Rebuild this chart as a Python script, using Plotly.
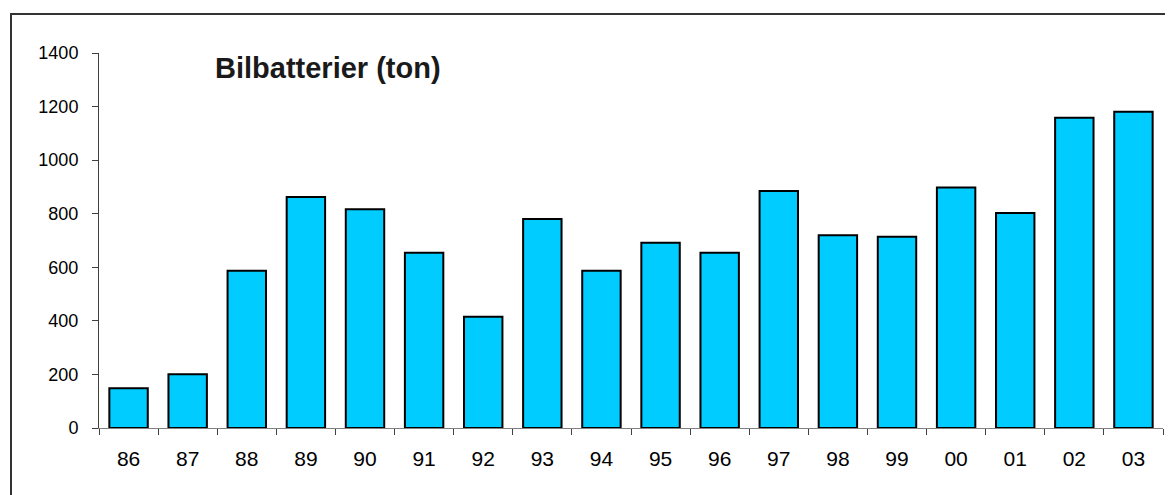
import plotly.graph_objects as go

years = ["86", "87", "88", "89", "90", "91", "92", "93", "94", "95",
         "96", "97", "98", "99", "00", "01", "02", "03"]
tons = [148, 201, 587, 862, 817, 654, 415, 780, 587, 692,
        654, 885, 720, 714, 898, 803, 1158, 1181]
y_ticks = [0, 200, 400, 600, 800, 1000, 1200, 1400]

# page body has an 8px default margin, so the figure is drawn 8px in
OFF = 8
W, H = 1173 - OFF, 495 - OFF
L, R, T, B = 99 - OFF, 10, 53 - OFF, 67
pw, ph = W - L - R, H - T - B

fig = go.Figure(go.Bar(
    x=years, y=tons,
    marker=dict(color="#00CCFF", line=dict(color="#000000", width=2)),
))

def px_x(p):
    return (p - OFF - L) / pw

def px_y(p):
    return (H - B - (p - OFF)) / ph

fig.update_layout(
    width=W, height=H,
    margin=dict(l=L, r=R, t=T, b=B),
    paper_bgcolor="white", plot_bgcolor="white",
    bargap=0.35,
    showlegend=False,
    font=dict(family="Liberation Sans, Arial, sans-serif", color="#000000"),
    xaxis=dict(
        type="category",
        showline=True, linecolor="#808080", linewidth=1,
        ticks="outside", tickson="boundaries", ticklen=6, tickcolor="#404040",
        tickfont=dict(size=21), ticklabelstandoff=12,
        showgrid=False, zeroline=False,
    ),
    yaxis=dict(
        range=[0, 1400], tickvals=y_ticks,
        showline=True, linecolor="#404040", linewidth=1,
        ticks="outside", ticklen=6, tickcolor="#404040",
        tickfont=dict(size=18), ticklabelstandoff=10,
        showgrid=False, zeroline=False,
    ),
    annotations=[dict(
        x=px_x(213), y=px_y(68), xref="paper", yref="paper",
        xanchor="left", yanchor="middle", showarrow=False,
        text="<b>Bilbatterier</b> <b>(ton)</b>",
        font=dict(size=29, color="#1a1a1a"),
    )],
    shapes=[dict(
        type="rect", xref="paper", yref="paper",
        x0=px_x(11), x1=px_x(1185), y0=px_y(14), y1=px_y(530),
        line=dict(color="#333333", width=2), fillcolor="rgba(0,0,0,0)",
        layer="below",
    )],
)

fig.write_html("out.html")
